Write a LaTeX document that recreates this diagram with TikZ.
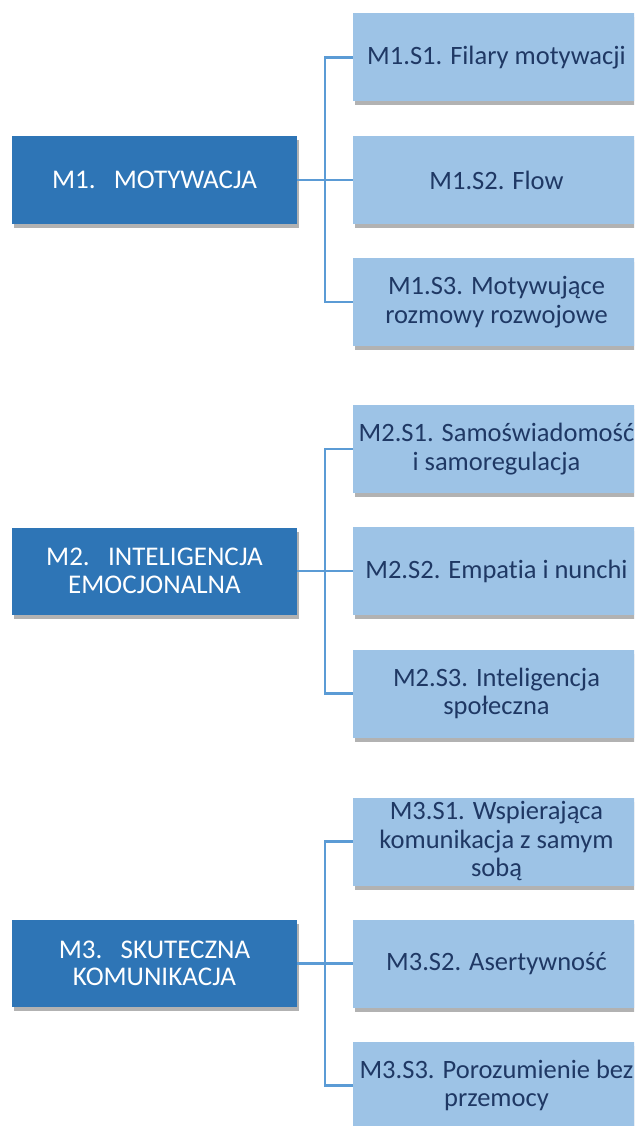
\documentclass[tikz,border=0pt]{standalone}
\usepackage{fontspec}
\setmainfont{Carlito}[Ligatures=NoCommon]
\usetikzlibrary{shadows}
\definecolor{mainblue}{HTML}{2E75B6}
\definecolor{subblue}{HTML}{9DC3E6}
\definecolor{subtext}{HTML}{1F3864}
\definecolor{linkblue}{HTML}{5B9BD5}
\begin{document}
\begin{tikzpicture}[x=1pt,y=-1pt,
  mainbox/.style={fill=mainblue, text=white, minimum width=285pt, minimum height=87pt,
    align=center, inner sep=2pt, font=\fontsize{27}{27.5}\selectfont,
    drop shadow={shadow xshift=2pt, shadow yshift=-4pt, fill=black, opacity=0.3}},
  subbox/.style={fill=subblue, text=subtext, minimum width=287pt, minimum height=88pt,
    align=center, inner sep=2pt, font=\fontsize{26.5}{28.5}\selectfont,
    drop shadow={shadow xshift=2pt, shadow yshift=-4pt, fill=black, opacity=0.3}},
  link/.style={draw=linkblue, line width=2.5pt}]
\useasboundingbox (0,0) rectangle (634,1126);
\begin{scope}
\clip (0,0) rectangle (634,1126);
% Group 1
\node[mainbox] (m1) at (154.5,180) {M1.\ \ \ MOTYWACJA};
\node[subbox] (s11) at (496.5,57.5) {M1.S1. Filary motywacji};
\node[subbox] (s12) at (496.5,180) {M1.S2. Flow};
\node[subbox] (s13) at (496.5,302) {M1.S3. Motywujące\\rozmowy rozwojowe};
% Group 2
\node[mainbox] (m2) at (154.5,571) {M2.\ \ \ INTELIGENCJA\\EMOCJONALNA};
\node[subbox] (s21) at (496.5,449) {M2.S1. Samoświadomość\\i samoregulacja};
\node[subbox] (s22) at (496.5,571) {M2.S2. Empatia i nunchi};
\node[subbox] (s23) at (496.5,693.5) {M2.S3. Inteligencja\\społeczna};
% Group 3
\node[mainbox] (m3) at (154.5,963.5) {M3.\ \ \ SKUTECZNA\\KOMUNIKACJA};
\node[subbox] (s31) at (496.5,841.5) {M3.S1. Wspierająca\\komunikacja z samym\\sobą};
\node[subbox] (s32) at (496.5,963.5) {M3.S2. Asertywność};
\node[subbox] (s33) at (496.5,1085.5) {M3.S3. Porozumienie bez\\przemocy};
% Connectors
\draw[link] (m1.east) -- (s12.west);
\draw[link] (s11.west) -- ++(-28,0) |- (s13.west);
\draw[link] (m2.east) -- (s22.west);
\draw[link] (s21.west) -- ++(-28,0) |- (s23.west);
\draw[link] (m3.east) -- (s32.west);
\draw[link] (s31.west) -- ++(-28,0) |- (s33.west);
\end{scope}
\end{tikzpicture}
\end{document}
